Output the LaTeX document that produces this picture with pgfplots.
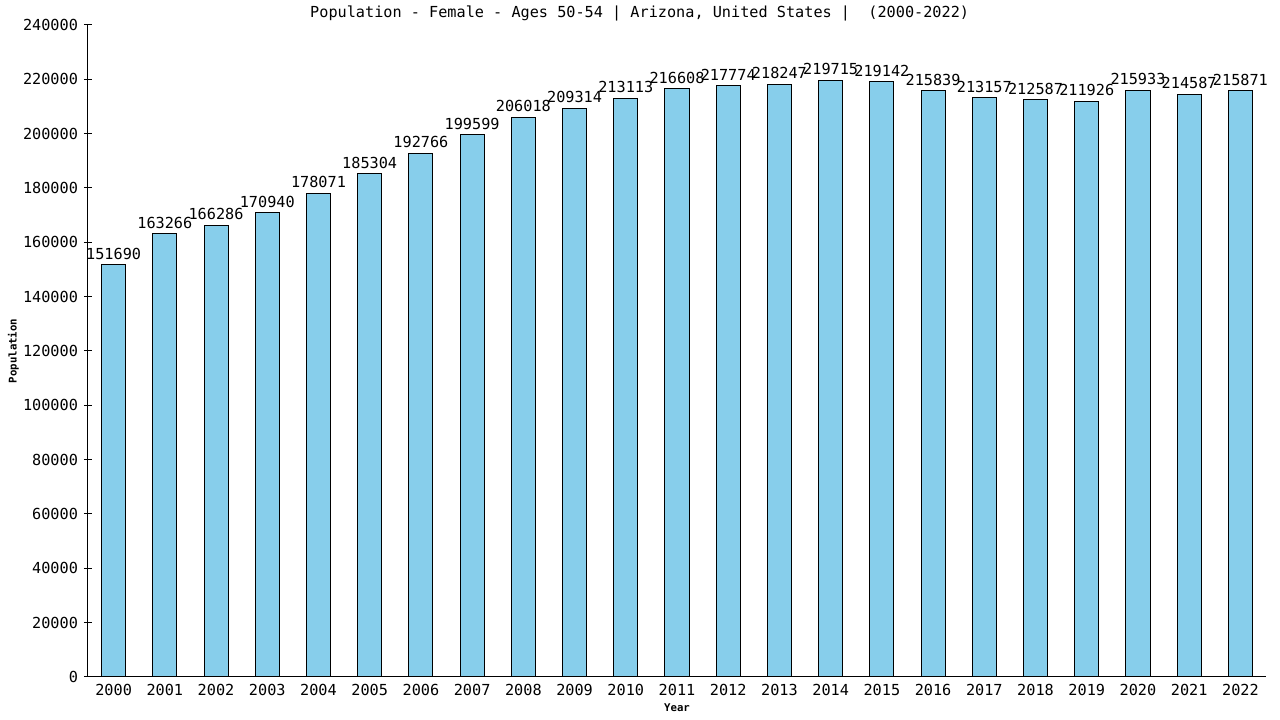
\documentclass[border=0pt]{standalone}
\usepackage{pgfplots}
\pgfplotsset{compat=1.18}
\usepackage{fontspec}
\setmainfont{DejaVu Sans Mono}
\definecolor{barblue}{HTML}{87CEEB}

\begin{document}
\begin{tikzpicture}
  \useasboundingbox (0,0) rectangle (960pt,540pt);
  \begin{axis}[
      at={(66pt,32.25pt)}, anchor=south west,
      scale only axis,
      width=883.5pt, height=489pt,
      axis lines*=left,
      xmin=-0.5, xmax=22.5,
      ymin=0, ymax=240000,
      xtick=data,
      xticklabels={2000,2001,2002,2003,2004,2005,2006,2007,2008,2009,2010,2011,2012,2013,2014,2015,2016,2017,2018,2019,2020,2021,2022},
      ytick distance=20000,
      scaled y ticks=false,
      yticklabel style={/pgf/number format/fixed, /pgf/number format/1000 sep={}},
      /pgf/number format/assume math mode=true,
      tick label style={font=\fontsize{11.4}{12}\selectfont},
      x tick style={draw=none},
      tick align=center,
      major tick length=6pt,
      y tick style={black, line width=0.75pt},
      axis line style={line width=0.75pt},
      xticklabel style={yshift=1pt},
      yticklabel style={xshift=-1pt},
      title={Population - Female - Ages 50-54 | Arizona, United States |\ \ (2000-2022)},
      title style={font=\fontsize{11.4}{12}\selectfont, at={(0.5,1)}, anchor=base, yshift=-0.75pt, xshift=-28pt},
      xlabel={\textbf{Year}},
      ylabel={\textbf{Population}},
      xlabel style={font=\fontsize{8}{9}\selectfont, at={(0.5,0)}, anchor=base, yshift=-26pt},
      ylabel style={font=\fontsize{8}{9}\selectfont, at={([xshift=-56pt]axis description cs:0,0.5)}, anchor=center},
      nodes near coords,
      every node near coord/.append style={font=\fontsize{11.4}{12}\selectfont, inner sep=3.5pt,
        /pgf/number format/fixed, /pgf/number format/1000 sep={}},
    ]
    \addplot[ybar, bar width=0.47, fill=barblue, draw=black, line width=0.75pt] coordinates {
      (0,151690) (1,163266) (2,166286) (3,170940) (4,178071) (5,185304)
      (6,192766) (7,199599) (8,206018) (9,209314) (10,213113) (11,216608)
      (12,217774) (13,218247) (14,219715) (15,219142) (16,215839) (17,213157)
      (18,212587) (19,211926) (20,215933) (21,214587) (22,215871)
    };
  \end{axis}
\end{tikzpicture}
\end{document}
